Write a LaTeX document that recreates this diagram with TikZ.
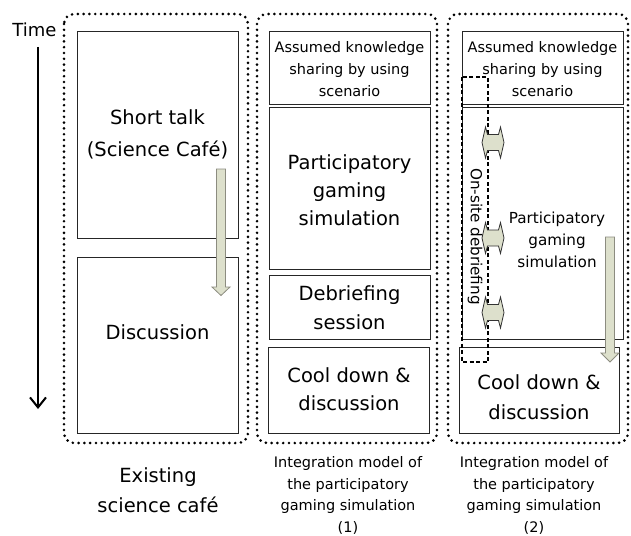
\documentclass[tikz,border=0pt]{standalone}
\usepackage{fontspec}
\setmainfont{DejaVu Sans}
\usetikzlibrary{arrows.meta}
\definecolor{arrfill}{RGB}{221,224,204}
\definecolor{arredge}{RGB}{140,140,128}
\tikzset{
  container/.style={draw=black, line width=2.9pt, line cap=round, dash pattern=on 0pt off 5.8pt, rounded corners=10pt},
  box/.style={draw=black!85, line width=1pt, inner sep=0pt, outer sep=0pt},
  big/.style={inner sep=0pt, align=center, font=\fontsize{19.5}{28}\selectfont},
  small/.style={inner sep=0pt, align=center, font=\fontsize{14.5}{22}\selectfont},
  blockarrow/.style={fill=arrfill, draw=arredge, line width=0.8pt},
  hexarrow/.style={fill=arrfill, draw=black!80, line width=0.8pt},
  dashbox/.style={draw=black, line width=1.7pt, dash pattern=on 4pt off 2.5pt}
}
\begin{document}
\begin{tikzpicture}[x=1pt,y=-1pt]
\useasboundingbox (0,0) rectangle (631,535);
% containers
\draw[container] (64,14) rectangle (248,443);
\draw[container] (257,14) rectangle (437,443);
\draw[container] (448,14) rectangle (628,443);
% column 1 boxes
\node[box, minimum width=161pt, minimum height=206pt] (c1a) at (157.5,135) {};
\node[box, minimum width=161pt, minimum height=176pt] (c1b) at (157.5,345) {};
% column 2 boxes
\node[box, minimum width=161pt, minimum height=72pt] (c2a) at (349.5,68) {};
\node[box, minimum width=161pt, minimum height=162pt] (c2b) at (349.5,188) {};
\node[box, minimum width=161pt, minimum height=64pt] (c2c) at (349.5,307) {};
\node[box, minimum width=161pt, minimum height=86pt] (c2d) at (348.5,390) {};
% column 3 boxes
\node[box, minimum width=161pt, minimum height=72pt] (c3a) at (542.5,68) {};
\node[box, minimum width=161pt, minimum height=232pt] (c3b) at (542.5,223) {};
\node[box, minimum width=160pt, minimum height=86pt] (c3c) at (539,390) {};
% dashed on-site debriefing frame
\draw[dashbox] (462,77) rectangle (488,362);
% hex double arrows
\foreach \n/\cy in {h1/142.5, h2/238, h3/312.5}{
  \coordinate (\n) at (493,\cy);
  \draw[hexarrow] ([shift={(-11,0)}]\n) -- ([shift={(-7.5,-15.5)}]\n) -- ([shift={(-5.5,-8)}]\n)
    -- ([shift={(5.5,-8)}]\n) -- ([shift={(7.5,-15.5)}]\n) -- ([shift={(11,0)}]\n)
    -- ([shift={(7.5,15.5)}]\n) -- ([shift={(5.5,8)}]\n) -- ([shift={(-5.5,8)}]\n)
    -- ([shift={(-7.5,15.5)}]\n) -- cycle;
}
% texts
\node[inner sep=0pt, font=\fontsize{18}{22}\selectfont] (time) at (34.5,30) {Time};
\node[big, font=\fontsize{19.5}{32}\selectfont] (t1a) at (157.5,134) {Short talk\\(Science Café)};
\node[big] (t1b) at (157.5,332) {Discussion};
\node[big, font=\fontsize{19.5}{30}\selectfont] (cap1) at (158,490) {Existing\\science café};
\node[small] (t2a) at (349.5,69) {Assumed knowledge\\sharing by using\\scenario};
\node[big] (t2b) at (349.5,190) {Participatory\\gaming\\simulation};
\node[big, font=\fontsize{19.5}{29}\selectfont] (t2c) at (349.5,307.5) {Debriefing\\session};
\node[big] (t2d) at (349,389) {Cool down \&\\discussion};
\node[small, font=\fontsize{14.5}{21.7}\selectfont] (cap2) at (348,495.5) {Integration model of\\the participatory\\gaming simulation\\(1)};
\node[small] (t3a) at (542.5,69) {Assumed knowledge\\sharing by using\\scenario};
\node[small, font=\fontsize{15.2}{22}\selectfont] (t3b) at (557,240) {Participatory\\gaming\\simulation};
\node[big, font=\fontsize{19.5}{30}\selectfont] (t3c) at (539,397) {Cool down \&\\discussion};
\node[small, font=\fontsize{14.5}{21.7}\selectfont] (cap3) at (534,495.5) {Integration model of\\the participatory\\gaming simulation\\(2)};
\node[inner sep=0pt, rotate=-90, font=\fontsize{15.2}{18}\selectfont] (onsite) at (475,236.5) {On-site debriefing};
% time arrow
\coordinate (ta) at (38,47);
\coordinate (tb) at (38,409);
\draw[line width=2pt, -{Straight Barb[length=10pt,width=16pt,line width=2pt]}] (ta) -- (tb);
% block arrows
\draw[blockarrow] (216.5,169) -- (225.5,169) -- (225.5,287) -- (230,287) -- (221,295.5) -- (212,287) -- (216.5,287) -- cycle;
\draw[blockarrow] (605.5,237) -- (614.5,237) -- (614.5,353) -- (619,353) -- (610,362) -- (601,353) -- (605.5,353) -- cycle;
\end{tikzpicture}
\end{document}
